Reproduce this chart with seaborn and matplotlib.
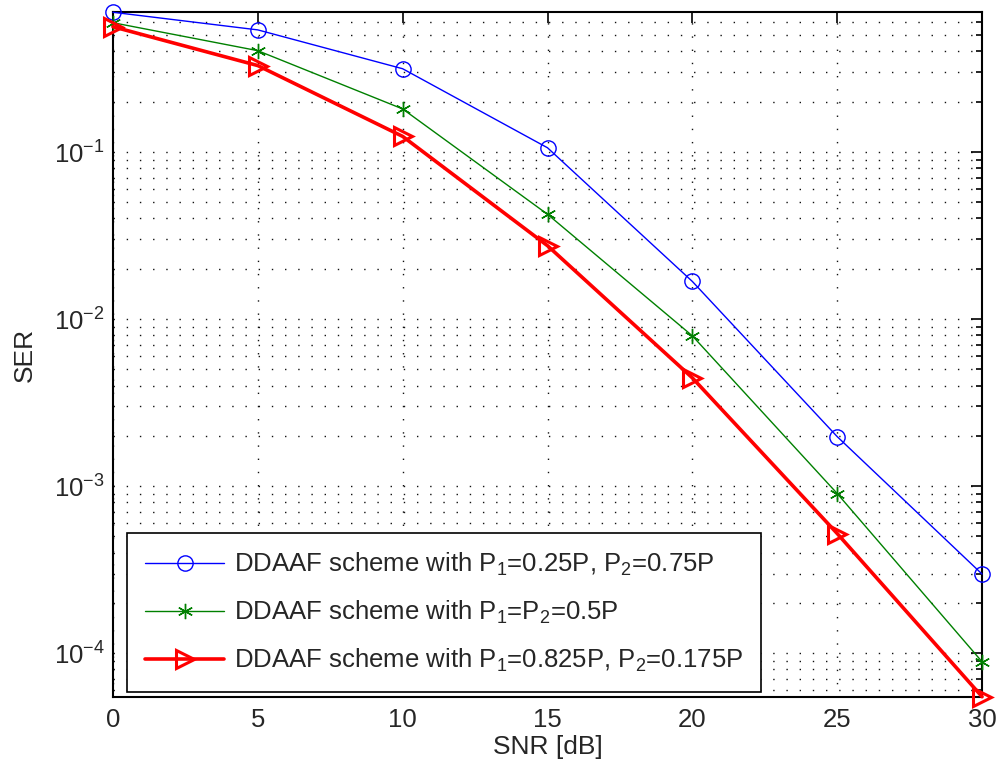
import numpy as np
import pandas as pd
import matplotlib
matplotlib.use("Agg")
import matplotlib.pyplot as plt
import seaborn as sns
from matplotlib.ticker import LogLocator, LogFormatterMathtext, NullFormatter, MultipleLocator

# SNR points (dB) and symbol error rates for the three power allocations
snr_db = [0, 5, 10, 15, 20, 25, 30]
ser_p025 = [0.686, 0.538, 0.315, 0.106, 0.0168, 0.00198, 2.98e-4]
ser_p050 = [0.594, 0.404, 0.181, 0.0424, 0.00794, 9.04e-4, 8.9e-5]
ser_p0825 = [0.562, 0.329, 0.124, 0.0275, 0.00445, 5.21e-4, 5.5e-5]

labels = [
    r"DDAAF scheme with P$_1$=0.25P, P$_2$=0.75P",
    r"DDAAF scheme with P$_1$=P$_2$=0.5P",
    r"DDAAF scheme with P$_1$=0.825P, P$_2$=0.175P",
]

sns.set_theme(style="white")
plt.rcParams["font.family"] = ["Liberation Sans", "DejaVu Sans"]
plt.rcParams["mathtext.fontset"] = "custom"
plt.rcParams["mathtext.rm"] = "Liberation Sans"
plt.rcParams["mathtext.it"] = "Liberation Sans:italic"
plt.rcParams["mathtext.default"] = "rm"

FS = 18.5

fig = plt.figure(figsize=(9.97, 7.66), dpi=100)
ax = fig.add_axes([0.1133, 0.0905, 0.8717, 0.8935])

asterisk = (6, 2, 0)
styles = [
    dict(color="#0000ff", marker="o", lw=1.0, ms=11, mew=1.0),
    dict(color="#008000", marker=asterisk, lw=1.0, ms=11, mew=1.0),
    dict(color="#ff0000", marker=">", lw=2.6, ms=12.5, mew=2.2),
]
for vals, lab, st in zip([ser_p025, ser_p050, ser_p0825], labels, styles):
    df = pd.DataFrame({"SNR": snr_db, "SER": vals})
    sns.lineplot(data=df, x="SNR", y="SER", ax=ax, label=lab,
                 color=st["color"], marker=st["marker"], linewidth=st["lw"],
                 markersize=st["ms"], markeredgewidth=st["mew"],
                 markerfacecolor="none", markeredgecolor=st["color"],
                 clip_on=False, zorder=3)

ax.set_yscale("log")
ax.set_xlim(0, 30)
ax.set_ylim(min(ser_p0825), max(ser_p025))
ax.xaxis.set_major_locator(MultipleLocator(5))
ax.yaxis.set_major_locator(LogLocator(base=10, numticks=10))
ax.yaxis.set_minor_locator(LogLocator(base=10, subs=np.arange(2, 10), numticks=20))
ax.yaxis.set_major_formatter(LogFormatterMathtext())
ax.yaxis.set_minor_formatter(NullFormatter())

grid_kw = dict(color="#111111", linewidth=1.0, linestyle=(0, (1, 8.5)))
ax.grid(True, which="major", axis="both", **grid_kw)
ax.grid(True, which="minor", axis="y", **grid_kw)

ax.tick_params(which="both", direction="in", top=True, right=True,
               labelsize=FS, color="black", width=1.2)
ax.tick_params(axis="x", pad=8)
ax.tick_params(axis="y", pad=6)
ax.tick_params(which="major", length=8)
ax.tick_params(which="minor", length=4.5)
for sp in ax.spines.values():
    sp.set_color("black")
    sp.set_linewidth(1.5)

ax.set_xlabel("SNR [dB]", fontsize=19, labelpad=2)
ax.set_ylabel("SER", fontsize=19, labelpad=12)

leg = ax.legend(loc="lower left", bbox_to_anchor=(0.0158, 0.0073),
                borderaxespad=0, fontsize=FS, frameon=True, fancybox=False,
                edgecolor="black", framealpha=1, numpoints=1,
                handlelength=3.1, handletextpad=0.39, labelspacing=0.8,
                borderpad=0.7)
leg.get_frame().set_linewidth(1.2)

fig.savefig("out.png", dpi=100)
